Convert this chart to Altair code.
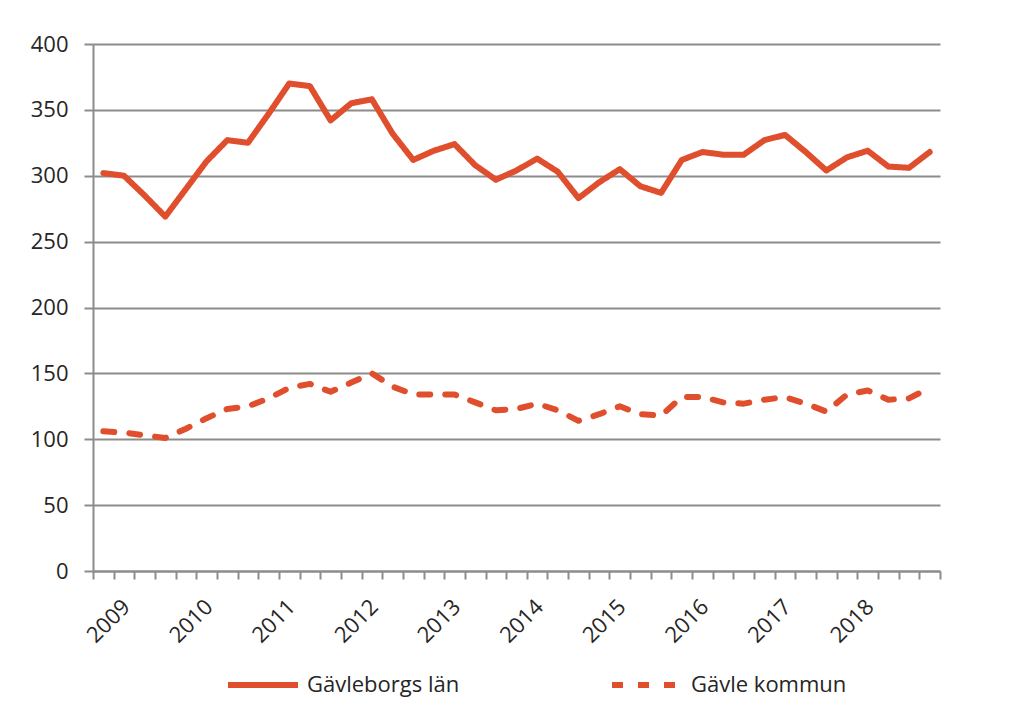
import altair as alt
import pandas as pd

years = [2009, 2010, 2011, 2012, 2013, 2014, 2015, 2016, 2017, 2018]
quarters = ["Q1", "Q2", "Q3", "Q4"]
periods = [f"{y} {q}" for y in years for q in quarters] + ["2019 Q1"]

series_names = ["Gävleborgs län", "Gävle kommun"]

lan = [302, 300, 285, 269, 290, 311, 327, 325, 347, 370, 368, 342, 355, 358,
       332, 312, 319, 324, 308, 297, 304, 313, 303, 283, 295, 305, 292, 287,
       312, 318, 316, 316, 327, 331, 318, 304, 314, 319, 307, 306, 318]
kommun = [106, 105, 103, 101, 108, 116, 123, 125, 131, 139, 142, 136, 143, 150,
          140, 134, 134, 134, 128, 122, 123, 127, 122, 114, 119, 125, 119, 118,
          132, 132, 128, 127, 130, 132, 127, 121, 134, 137, 130, 131, 139]

rows = []
for i, (p, v) in enumerate(zip(periods, lan)):
    rows.append({"idx": i, "period": p, "value": v, "series": series_names[0]})
for i, (p, v) in enumerate(zip(periods, kommun)):
    rows.append({"idx": i, "period": p, "value": v, "series": series_names[1]})
df = pd.DataFrame(rows)

n = len(periods)
tick_values = [i - 0.5 for i in range(n + 1)]
first_year = years[0]
last_label_idx = (len(years) - 1) * 4

FONT = "Open Sans"
RED = "#E04F2D"
GRID = "#8C8C8C"
TEXT = "#262626"

legend = alt.Legend(
    title=None,
    orient="none",
    legendX=132,
    legendY=603,
    direction="horizontal",
    symbolType="stroke",
    symbolSize=4900,
    symbolStrokeWidth=6,
    labelFont=FONT,
    labelFontSize=22,
    labelColor=TEXT,
    labelOffset=6,
    columnPadding=140,
)

label_expr = (
    f"(datum.value + 0.5) % 4 == 0 && datum.value < {last_label_idx + 1} "
    f"? '' + ({first_year} + (datum.value + 0.5) / 4) : ''"
)

chart = (
    alt.Chart(df)
    .mark_line(strokeWidth=6, strokeCap="round", strokeJoin="round")
    .encode(
        x=alt.X(
            "idx:Q",
            scale=alt.Scale(domain=[-0.5, n - 0.5], nice=False, zero=False),
            axis=alt.Axis(
                title=None,
                values=tick_values,
                labelAngle=-45,
                labelAlign="right",
                labelBaseline="middle",
                labelExpr=label_expr,
                tickSize=8,
                tickWidth=2,
                tickColor=GRID,
                domainColor=GRID,
                domainWidth=2,
                labelPadding=24,
                labelOffset=33,
                labelFont=FONT,
                labelFontSize=22,
                labelColor=TEXT,
                labelOverlap=False,
                labelFlush=False,
                grid=False,
            ),
        ),
        y=alt.Y(
            "value:Q",
            scale=alt.Scale(domain=[0, 400], nice=False),
            axis=alt.Axis(
                title=None,
                values=[0, 50, 100, 150, 200, 250, 300, 350, 400],
                tickSize=9,
                tickWidth=2,
                tickColor=GRID,
                domainColor=GRID,
                domainWidth=2,
                gridColor=GRID,
                gridWidth=2,
                labelPadding=16,
                labelFont=FONT,
                labelFontSize=22,
                labelColor=TEXT,
            ),
        ),
        color=alt.Color(
            "series:N",
            sort=series_names,
            scale=alt.Scale(domain=series_names, range=[RED, RED]),
            legend=legend,
        ),
        strokeDash=alt.StrokeDash(
            "series:N",
            sort=series_names,
            scale=alt.Scale(domain=series_names, range=[[1, 0], [11, 15]]),
            legend=legend,
        ),
    )
    .properties(
        width=847,
        height=527,
        autosize=alt.AutoSizeParams(type="none"),
        padding={"left": 85, "top": 36, "right": 60, "bottom": 134},
    )
    .configure_view(strokeWidth=0)
)

chart.save("out.html", embed_options={"renderer": "svg", "actions": False})
